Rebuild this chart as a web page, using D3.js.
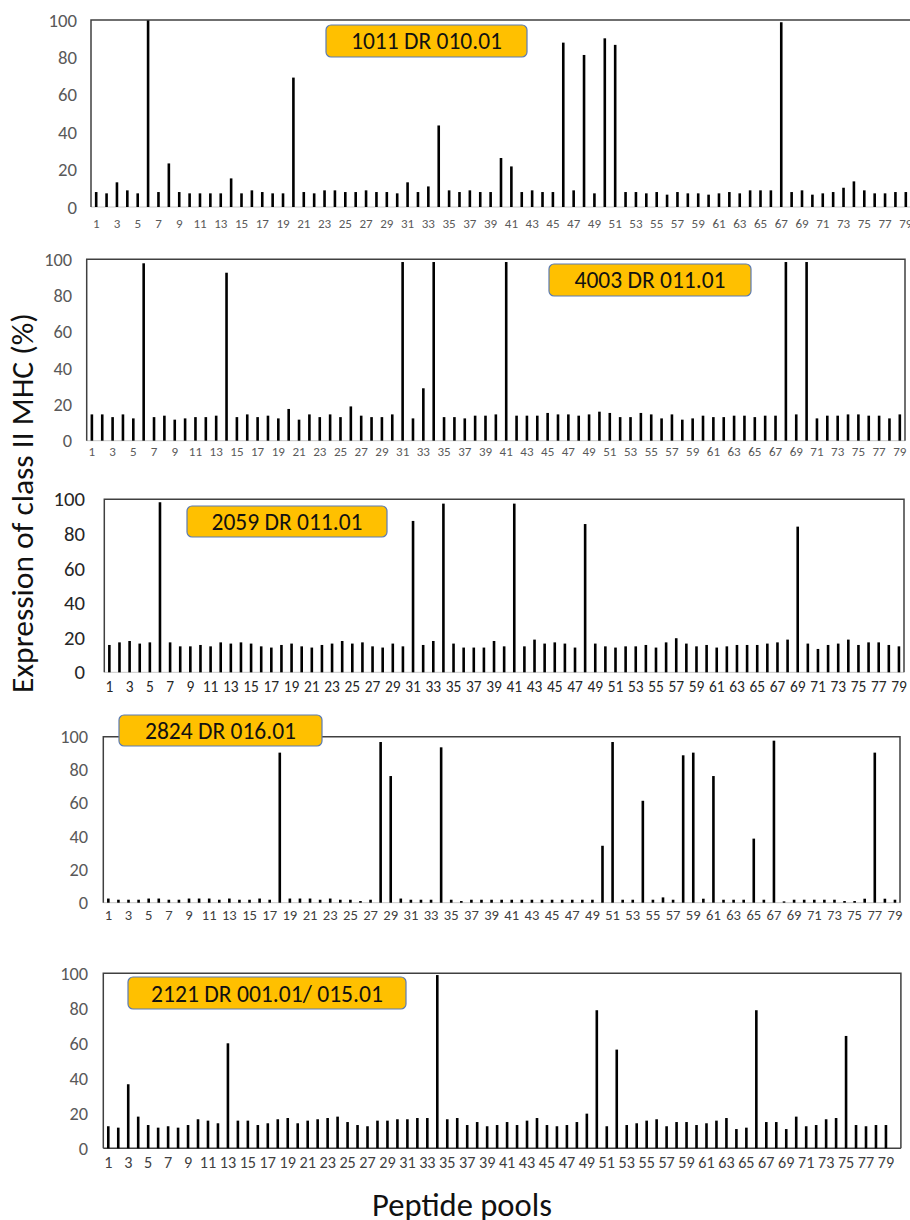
<!DOCTYPE html>
<html>
<head>
<meta charset="utf-8">
<script src="https://cdnjs.cloudflare.com/ajax/libs/d3/7.8.5/d3.min.js"></script>
<style>
  body { margin: 0; background: #fff; }
  svg { display: block; }
  text { font-family: Carlito, Lato, "Open Sans", sans-serif; }
</style>
</head>
<body>
<div id="chart"></div>
<script>
// Peptide pool numbers (x categories)
var pools = [1,2,3,4,5,6,7,8,9,10,11,12,13,14,15,16,17,18,19,20,
  21,22,23,24,25,26,27,28,29,30,31,32,33,34,35,36,37,38,39,40,
  41,42,43,44,45,46,47,48,49,50,51,52,53,54,55,56,57,58,59,60,
  61,62,63,64,65,66,67,68,69,70,71,72,73,74,75,76,77,78,79,80]

// labelled pools on the x axis
var poolTicks = [1,3,5,7,9,11,13,15,17,19,21,23,25,27,29,31,33,35,37,39,
  41,43,45,47,49,51,53,55,57,59,61,63,65,67,69,71,73,75,77,79]

var yTicks = [0, 20, 40, 60, 80, 100]

var donors = ["1011 DR 010.01", "4003 DR 011.01", "2059 DR 011.01",
  "2824 DR 016.01", "2121 DR 001.01/ 015.01"]

// expression of class II MHC (%) per pool, pools 1..79
var values1011 = [8, 7.3, 13.2, 8.9, 7.3, 100, 8, 23.3, 8, 7.3,
  7.3, 7.3, 7.3, 15.3, 7.3, 8.9, 8, 7.3, 7.3, 69.2,
  8, 7.3, 8.9, 8.9, 8, 8, 8.9, 8, 8, 7.3,
  13.2, 8, 11, 43.6, 8.9, 8, 8.9, 8, 8, 26.2,
  21.7, 8, 8.9, 8, 8, 87.9, 8.9, 81.3, 7.3, 90.2,
  86.7, 8, 8, 7.3, 8, 6.6, 8, 7.3, 7.3, 6.6,
  7.3, 8, 7.3, 8.9, 8.9, 8.9, 98.8, 8, 8.9, 6.6,
  7.3, 8, 10.3, 13.7, 8.9, 7.3, 7.3, 8, 8]

var values4003 = [14.5, 14.5, 13, 14.5, 12.3, 97.8, 13, 13.8, 11.6, 12.3,
  13, 13, 13.8, 92.6, 13, 14.5, 13, 13.8, 12.3, 17.5,
  11.6, 14.5, 13, 14.5, 13, 18.9, 13.8, 13, 13, 14.5,
  98.5, 12.3, 28.9, 98.5, 13, 13, 12.3, 13.8, 13.8, 14.5,
  98.5, 13.8, 13.8, 13.8, 15.3, 14.5, 14.5, 13.8, 14.5, 16,
  15.3, 13, 13, 15.3, 14.5, 12.3, 14.5, 11.6, 12.3, 13.8,
  13, 13, 13.8, 13.8, 13, 13.8, 13.8, 98.5, 14.5, 98.5,
  12.3, 13.8, 13.8, 14.5, 14.5, 13.8, 13.8, 12.3, 14.5]

var values2059 = [15.8, 17.3, 18.1, 16.6, 17.3, 98.3, 17.3, 15, 15, 15.8,
  15, 17.3, 16.6, 17.3, 16.6, 15, 14.3, 15.8, 16.6, 15,
  14.3, 15.8, 16.6, 18.1, 16.6, 17.3, 15, 14.3, 16.6, 15,
  87.5, 15.8, 18.1, 97.5, 16.6, 14.3, 14.3, 14.3, 18.1, 15,
  97.5, 15, 18.9, 16.6, 17.3, 16.6, 14.3, 85.7, 16.6, 15,
  14.3, 15, 15, 15.8, 14.3, 17.3, 19.7, 16.6, 15, 15.8,
  14.3, 15, 15.8, 15.8, 15.8, 16.6, 17.3, 18.9, 84.2, 16.6,
  13.5, 15.8, 16.6, 18.9, 15.8, 17.3, 17.3, 15.8, 15]

var values2824 = [2.5, 1.8, 1.8, 1.8, 2.5, 2.5, 1.8, 1.8, 2.5, 2.5,
  2.5, 1.8, 2.5, 1.8, 1.8, 2.5, 1.8, 90.4, 2.5, 2.5,
  2.5, 1.8, 2.5, 1.8, 1.8, 1, 1.8, 96.8, 76.3, 2.5,
  1.8, 1.8, 1.8, 93.6, 1.8, 1, 1.8, 1.8, 1.8, 1.8,
  1.8, 1.8, 1.8, 1.8, 1.8, 1.8, 1.8, 1.8, 1.8, 34.3,
  96.8, 1.8, 1.8, 61.4, 1.8, 3.2, 1.8, 88.8, 90.4, 2.4,
  76.3, 1.8, 1.8, 1.8, 38.6, 1.8, 97.6, 0.8, 1.8, 1.8,
  1.8, 1.8, 1.8, 1, 1, 2.4, 90.4, 2.4, 1.8]

var values2121 = [12.6, 11.8, 36.6, 18.1, 13.3, 11.8, 12.6, 11.8, 13.3, 16.6,
  15.8, 14.3, 60, 15.8, 15.8, 13.3, 14.3, 16.6, 17.3, 14.3,
  15.8, 16.6, 17.3, 18.1, 15, 13.3, 12.6, 15.8, 15.8, 16.6,
  16.6, 17.3, 17.3, 99, 16.6, 17.3, 13.3, 15, 12.6, 13.3,
  15, 13.3, 15.8, 17.3, 13.3, 12.6, 13.3, 15, 19.8, 78.9,
  12.6, 56.4, 13.3, 14.3, 15.8, 16.6, 12.6, 15, 15, 13.3,
  14.3, 15.8, 17.3, 11, 11.8, 78.9, 15, 15, 11, 18.1,
  12.6, 13.3, 16.6, 17.3, 64.2, 13.3, 12.6, 13.3, 13.3]

var allValues = [values1011, values4003, values2059, values2824, values2121]

// panel layout (pixels); yDig / xDig = wanted width of one digit in the tick labels
var panels = [
  {left: 91, right: 911, top: 20, bottom: 207, n: 79, yEnd: 77, yDig: 9.5, yCol: "#595959",
   xDig: 6.6, xCol: "#595959", xY: 228, box: [326, 25, 201, 32], boxW: 151, darkBase: false},
  {left: 86.7, right: 905, top: 259.3, bottom: 440.7, n: 79, yEnd: 72, yDig: 9.3, yCol: "#595959",
   xDig: 6.6, xCol: "#595959", xY: 456, box: [549, 264, 202, 32], boxW: 151, darkBase: false},
  {left: 104.3, right: 904, top: 499.3, bottom: 672.3, n: 79, yEnd: 85, yDig: 10.5, yCol: "#262626",
   xDig: 7.8, xCol: "#262626", xY: 690, box: [187, 506, 200, 31], boxW: 151, darkBase: false},
  {left: 103.3, right: 900, top: 736.7, bottom: 902.7, n: 79, yEnd: 88, yDig: 9.3, yCol: "#595959",
   xDig: 7.4, xCol: "#404040", xY: 919, box: [119, 715, 203, 31], boxW: 151, darkBase: false},
  {left: 103.3, right: 900.9, top: 973.3, bottom: 1148.3, n: 80, yEnd: 88, yDig: 9.3, yCol: "#595959",
   xDig: 8.2, xCol: "#404040", xY: 1165, box: [128, 977, 278, 32], boxW: 232, darkBase: true}
]

var svg = d3.select("#chart")
  .append("svg")
  .attr("width", 910)
  .attr("height", 1220)

// measure the installed font once, so sizes can be set from wanted widths
var probe = svg.append("text").style("font-size", "100px").text("00")
var digitPer100 = probe.node().getComputedTextLength() / 2
probe.remove()

function fitText(sel, width) {
  sel.style("font-size", "100px")
  var w = sel.node().getComputedTextLength()
  sel.style("font-size", (100 * width / w) + "px")
}

panels.forEach(function(p, i) {
  var g = svg.append("g")

  var x = d3.scaleBand()
    .domain(pools.slice(0, p.n))
    .range([p.left, p.right])
    .padding(0)

  var y = d3.scaleLinear()
    .domain([0, 100])
    .range([p.bottom, p.top])

  // baseline
  g.append("line")
    .attr("x1", p.left).attr("x2", p.right)
    .attr("y1", y(0)).attr("y2", y(0))
    .attr("stroke", p.darkBase ? "#404040" : "#c8c8c8")
    .attr("stroke-width", p.darkBase ? 1.5 : 1)

  // bars
  var barW = 2.6
  g.selectAll(".bar")
    .data(allValues[i])
    .enter()
    .append("rect")
    .attr("class", "bar")
    .attr("x", function(d, k) { return x(pools[k]) + x.bandwidth() / 2 - barW / 2 })
    .attr("y", function(d) { return y(d) })
    .attr("width", barW)
    .attr("height", function(d) { return y(0) - y(d) })
    .attr("fill", "#000")

  // frame (top, left, right)
  g.append("path")
    .attr("d", "M" + p.left + "," + y(0) + "V" + y(100) + "H" + p.right + "V" + y(0))
    .attr("fill", "none")
    .attr("stroke", "#404040")
    .attr("stroke-width", 1.5)

  // y axis
  var yAxis = g.append("g")
    .attr("transform", "translate(" + p.left + ",0)")
    .call(d3.axisLeft(y).tickValues(yTicks).tickSize(0).tickPadding(p.left - p.yEnd))
  yAxis.select(".domain").remove()
  yAxis.selectAll("text")
    .style("font-family", "Carlito, Lato, sans-serif")
    .style("font-size", (100 * p.yDig / digitPer100) + "px")
    .attr("fill", p.yCol)

  // x axis
  var xAxis = g.append("g")
    .attr("transform", "translate(0," + (p.xY - 9) + ")")
    .call(d3.axisBottom(x).tickValues(poolTicks).tickSize(0).tickPadding(0))
  xAxis.select(".domain").remove()
  xAxis.selectAll("text")
    .style("font-family", "Carlito, Lato, sans-serif")
    .style("font-size", (100 * p.xDig / digitPer100) + "px")
    .attr("fill", p.xCol)

  // donor label
  g.append("rect")
    .attr("x", p.box[0]).attr("y", p.box[1])
    .attr("width", p.box[2]).attr("height", p.box[3])
    .attr("rx", 5)
    .attr("fill", "#ffc000")
    .attr("stroke", "#5b7bb5")
    .attr("stroke-width", 1.2)
  var lab = g.append("text")
    .attr("x", p.box[0] + p.box[2] / 2)
    .attr("y", p.box[1] + p.box[3] / 2)
    .attr("dy", "0.36em")
    .attr("text-anchor", "middle")
    .attr("fill", "#111")
    .text(donors[i])
  fitText(lab, p.boxW)
})

// axis titles
var yTitle = svg.append("text")
  .attr("transform", "translate(33,503) rotate(-90)")
  .attr("text-anchor", "middle")
  .attr("fill", "#111")
  .text("Expression of class II MHC (%)")
fitText(yTitle, 380)

var xTitle = svg.append("text")
  .attr("x", 462)
  .attr("y", 1216)
  .attr("text-anchor", "middle")
  .attr("fill", "#111")
  .text("Peptide pools")
fitText(xTitle, 180)
</script>
</body>
</html>
